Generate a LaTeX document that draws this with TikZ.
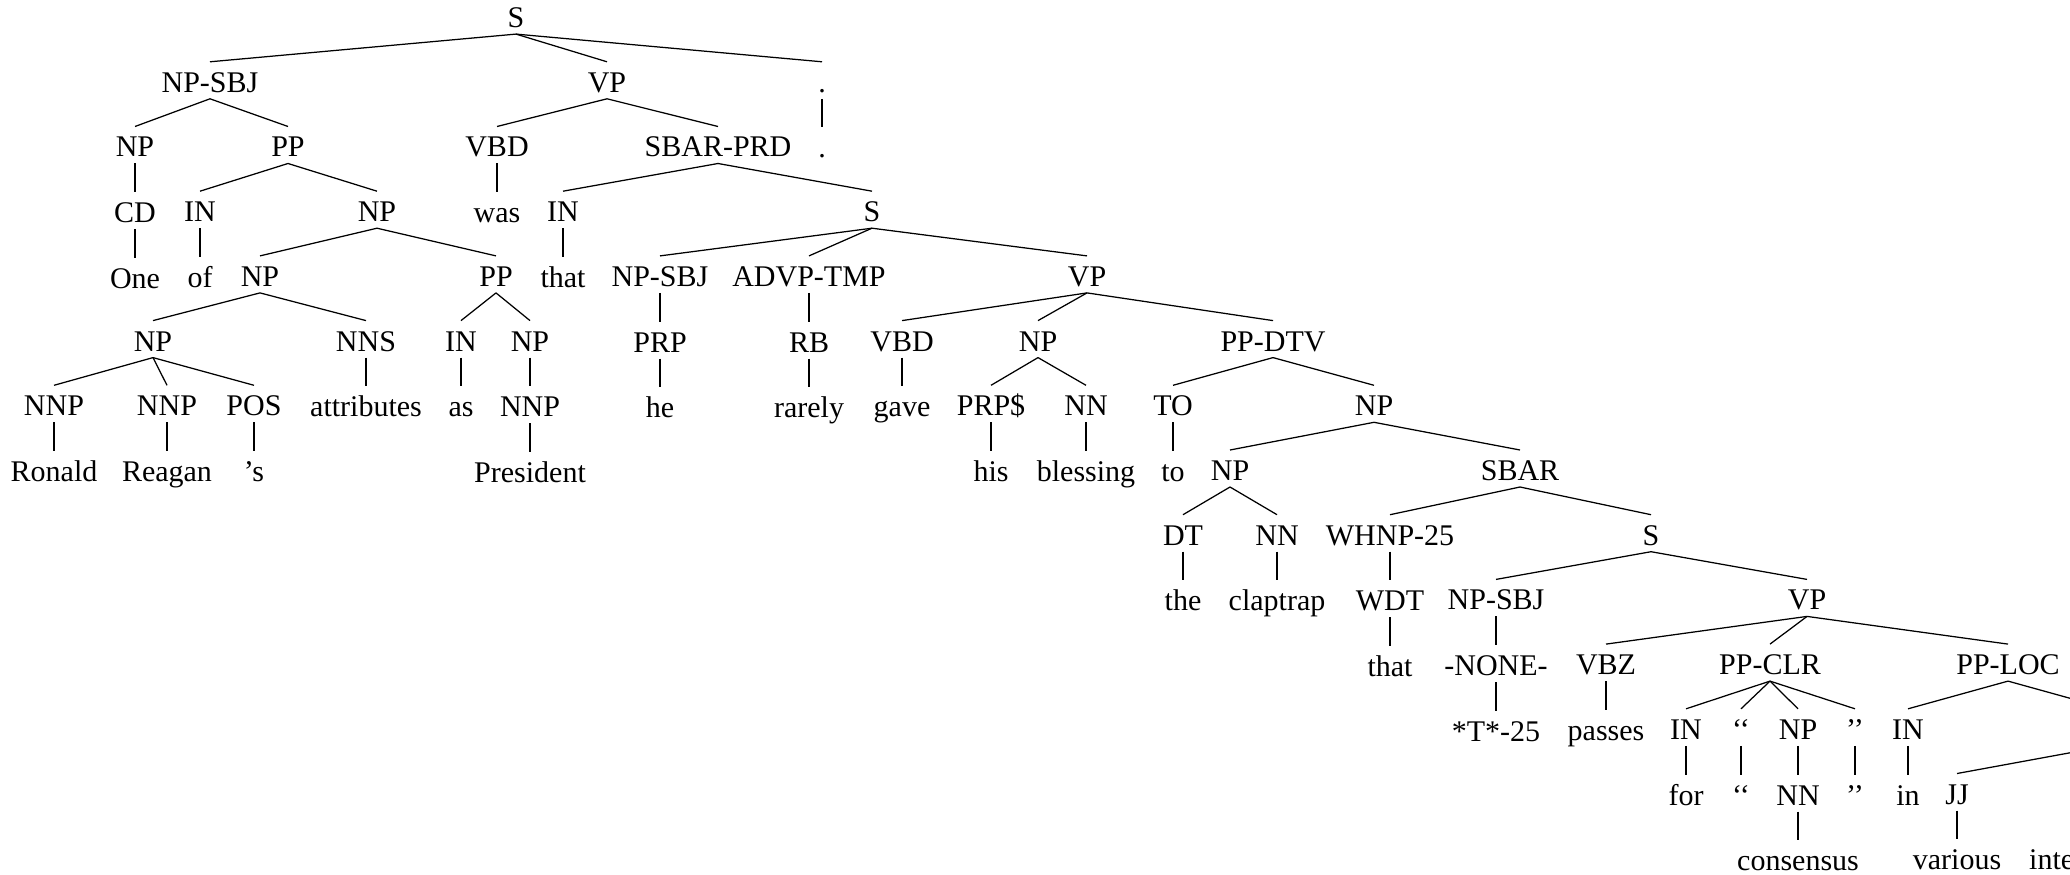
\documentclass[tikz,border=0pt]{standalone}
\usepackage{fontspec}
\setmainfont{Liberation Serif}
\usetikzlibrary{positioning}

\tikzset{
  tag/.style={anchor=base, inner sep=0pt, text height=12pt, text depth=2.4pt},
  branch/.style={line width=0.5pt}
}

\begin{document}
\begin{tikzpicture}[x=0.4pt, y=-25.88pt, node distance=11.48pt, font=\fontsize{12}{14}\selectfont]
\path[use as bounding box, fill=white] (0,-0.4266) rectangle (2070,13.097);

%% main clause
\node[tag] (s) at (516,0) {S};
\node[tag] (npsbj) at (210,1) {NP-SBJ};
\node[tag] (vp) at (607,1) {VP};
\node[tag] (period) at (822,1) {.};
\node[tag, below=of period] (periodw) {.};

%% subject: One of Ronald Reagan's attributes as President
\node[tag] (npone) at (135,2) {NP};
\node[tag] (ppof) at (288,2) {PP};
\node[tag, below=of npone] (cd) {CD};
\node[tag, below=of cd] (one) {One};
\node[tag] (inof) at (200,3) {IN};
\node[tag, below=of inof] (of) {of};
\node[tag] (npattr) at (377,3) {NP};
\node[tag] (npreagan) at (260,4) {NP};
\node[tag] (ppas) at (496,4) {PP};
\node[tag] (npposs) at (153,5) {NP};
\node[tag] (nns) at (366,5) {NNS};
\node[tag, below=of nns] (attributes) {attributes};
\node[tag] (inas) at (461,5) {IN};
\node[tag, below=of inas] (as) {as};
\node[tag] (nppres) at (530,5) {NP};
\node[tag, below=of nppres] (nnppres) {NNP};
\node[tag, below=of nnppres] (president) {President};
\node[tag] (nnpron) at (54,6) {NNP};
\node[tag] (nnprea) at (167,6) {NNP};
\node[tag] (pos) at (254,6) {POS};
\node[tag, below=of nnpron] (ronald) {Ronald};
\node[tag, below=of nnprea] (reagan) {Reagan};
\node[tag, below=of pos] (poss) {'s};

%% predicate
\node[tag] (vbd) at (497,2) {VBD};
\node[tag, below=of vbd] (was) {was};
\node[tag] (sbarprd) at (718,2) {SBAR-PRD};
\node[tag] (inthat) at (563,3) {IN};
\node[tag, below=of inthat] (that) {that};
\node[tag] (sinner) at (872,3) {S};
\node[tag] (npsbjhe) at (660,4) {NP-SBJ};
\node[tag, below=of npsbjhe] (prp) {PRP};
\node[tag, below=of prp] (he) {he};
\node[tag] (advp) at (809,4) {ADVP-TMP};
\node[tag, below=of advp] (rb) {RB};
\node[tag, below=of rb] (rarely) {rarely};
\node[tag] (vpgave) at (1087,4) {VP};
\node[tag] (vbdgave) at (902,5) {VBD};
\node[tag, below=of vbdgave] (gave) {gave};
\node[tag] (npbless) at (1038,5) {NP};
\node[tag] (prps) at (991,6) {PRP\$};
\node[tag] (nnbless) at (1086,6) {NN};
\node[tag, below=of prps] (his) {his};
\node[tag, below=of nnbless] (blessing) {blessing};
\node[tag] (ppdtv) at (1273,5) {PP-DTV};
\node[tag] (to) at (1173,6) {TO};
\node[tag, below=of to] (tow) {to};
\node[tag] (npclap) at (1374,6) {NP};
\node[tag] (npthe) at (1230,7) {NP};
\node[tag] (dt) at (1183,8) {DT};
\node[tag] (nnclap) at (1277,8) {NN};
\node[tag, below=of dt] (the) {the};
\node[tag, below=of nnclap] (claptrap) {claptrap};

%% relative clause
\node[tag] (sbar) at (1520,7) {SBAR};
\node[tag] (whnp) at (1390,8) {WHNP-25};
\node[tag, below=of whnp] (wdt) {WDT};
\node[tag, below=of wdt] (thatw) {that};
\node[tag] (srel) at (1651,8) {S};
\node[tag] (npnone) at (1496,9) {NP-SBJ};
\node[tag, below=of npnone] (none) {-NONE-};
\node[tag, below=of none] (trace) {*T*-25};
\node[tag] (vppass) at (1807,9) {VP};
\node[tag] (vbz) at (1606,10) {VBZ};
\node[tag, below=of vbz] (passes) {passes};
\node[tag] (ppclr) at (1770,10) {PP-CLR};
\node[tag] (infor) at (1686,11) {IN};
\node[tag, below=of infor] (for) {for};
\node[tag] (lq) at (1741,11) {`{}`};
\node[tag, below=of lq] (lqw) {`{}`};
\node[tag] (npcons) at (1798,11) {NP};
\node[tag, below=of npcons] (nncons) {NN};
\node[tag, below=of nncons] (consensus) {consensus};
\node[tag] (rq) at (1855,11) {'{}'};
\node[tag, below=of rq] (rqw) {'{}'};
\node[tag] (pploc) at (2008,10) {PP-LOC};
\node[tag] (inin) at (1908,11) {IN};
\node[tag, below=of inin] (in) {in};
\node[tag] (npinst) at (2108,11) {NP};
\node[tag] (jjvar) at (1957,12) {JJ};
\node[tag, below=of jjvar] (various) {various};
\node[tag] (jjint) at (2105,12) {JJ};
\node[tag, below=of jjint] (international) {international};
\node[tag] (nnsinst) at (2260,12) {NNS};
\node[tag, below=of nnsinst] (institutions) {institutions};

%% branches
\draw[branch] (s.south) edge (npsbj.north) edge (vp.north) edge (period.north);
\draw[branch] (period.south) -- (periodw.north);
\draw[branch] (npsbj.south) edge (npone.north) edge (ppof.north);
\draw[branch] (npone.south) -- (cd.north);
\draw[branch] (cd.south) -- (one.north);
\draw[branch] (ppof.south) edge (inof.north) edge (npattr.north);
\draw[branch] (inof.south) -- (of.north);
\draw[branch] (npattr.south) edge (npreagan.north) edge (ppas.north);
\draw[branch] (npreagan.south) edge (npposs.north) edge (nns.north);
\draw[branch] (npposs.south) edge (nnpron.north) edge (nnprea.north) edge (pos.north);
\draw[branch] (nnpron.south) -- (ronald.north);
\draw[branch] (nnprea.south) -- (reagan.north);
\draw[branch] (pos.south) -- (poss.north);
\draw[branch] (nns.south) -- (attributes.north);
\draw[branch] (ppas.south) edge (inas.north) edge (nppres.north);
\draw[branch] (inas.south) -- (as.north);
\draw[branch] (nppres.south) -- (nnppres.north);
\draw[branch] (nnppres.south) -- (president.north);

\draw[branch] (vp.south) edge (vbd.north) edge (sbarprd.north);
\draw[branch] (vbd.south) -- (was.north);
\draw[branch] (sbarprd.south) edge (inthat.north) edge (sinner.north);
\draw[branch] (inthat.south) -- (that.north);
\draw[branch] (sinner.south) edge (npsbjhe.north) edge (advp.north) edge (vpgave.north);
\draw[branch] (npsbjhe.south) -- (prp.north);
\draw[branch] (prp.south) -- (he.north);
\draw[branch] (advp.south) -- (rb.north);
\draw[branch] (rb.south) -- (rarely.north);
\draw[branch] (vpgave.south) edge (vbdgave.north) edge (npbless.north) edge (ppdtv.north);
\draw[branch] (vbdgave.south) -- (gave.north);
\draw[branch] (npbless.south) edge (prps.north) edge (nnbless.north);
\draw[branch] (prps.south) -- (his.north);
\draw[branch] (nnbless.south) -- (blessing.north);
\draw[branch] (ppdtv.south) edge (to.north) edge (npclap.north);
\draw[branch] (to.south) -- (tow.north);
\draw[branch] (npclap.south) edge (npthe.north) edge (sbar.north);
\draw[branch] (npthe.south) edge (dt.north) edge (nnclap.north);
\draw[branch] (dt.south) -- (the.north);
\draw[branch] (nnclap.south) -- (claptrap.north);

\draw[branch] (sbar.south) edge (whnp.north) edge (srel.north);
\draw[branch] (whnp.south) -- (wdt.north);
\draw[branch] (wdt.south) -- (thatw.north);
\draw[branch] (srel.south) edge (npnone.north) edge (vppass.north);
\draw[branch] (npnone.south) -- (none.north);
\draw[branch] (none.south) -- (trace.north);
\draw[branch] (vppass.south) edge (vbz.north) edge (ppclr.north) edge (pploc.north);
\draw[branch] (vbz.south) -- (passes.north);
\draw[branch] (ppclr.south) edge (infor.north) edge (lq.north) edge (npcons.north) edge (rq.north);
\draw[branch] (infor.south) -- (for.north);
\draw[branch] (lq.south) -- (lqw.north);
\draw[branch] (npcons.south) -- (nncons.north);
\draw[branch] (nncons.south) -- (consensus.north);
\draw[branch] (rq.south) -- (rqw.north);
\draw[branch] (pploc.south) edge (inin.north) edge (npinst.north);
\draw[branch] (inin.south) -- (in.north);
\draw[branch] (npinst.south) edge (jjvar.north) edge (jjint.north) edge (nnsinst.north);
\draw[branch] (jjvar.south) -- (various.north);
\draw[branch] (jjint.south) -- (international.north);
\draw[branch] (nnsinst.south) -- (institutions.north);
\end{tikzpicture}
\end{document}
